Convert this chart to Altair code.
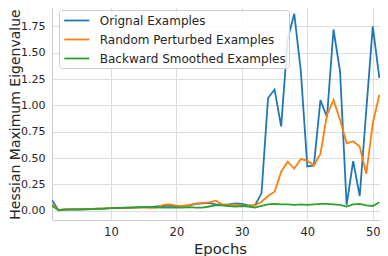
import altair as alt
import pandas as pd

epochs = list(range(1, 52))
original = [0.10, 0.005, 0.010, 0.012, 0.010, 0.012, 0.015, 0.020, 0.020, 0.025,
            0.028, 0.030, 0.030, 0.032, 0.035, 0.035, 0.040, 0.045, 0.048, 0.045,
            0.045, 0.050, 0.065, 0.070, 0.075, 0.060, 0.055, 0.060, 0.070, 0.065,
            0.050, 0.050, 0.165, 1.07, 1.15, 0.80, 1.63, 1.87, 1.33, 0.42,
            0.43, 1.05, 0.89, 1.72, 1.32, 0.054, 0.47, 0.14, 0.95, 1.75, 1.26]
perturbed = [0.06, 0.008, 0.015, 0.015, 0.015, 0.015, 0.018, 0.020, 0.022, 0.025,
             0.025, 0.028, 0.030, 0.030, 0.030, 0.028, 0.030, 0.055, 0.060, 0.048,
             0.045, 0.055, 0.070, 0.075, 0.080, 0.095, 0.060, 0.055, 0.060, 0.050,
             0.045, 0.050, 0.085, 0.14, 0.18, 0.37, 0.465, 0.40, 0.49, 0.475,
             0.43, 0.54, 0.91, 1.05, 0.86, 0.64, 0.66, 0.61, 0.35, 0.83, 1.10]
smoothed = [0.045, 0.005, 0.010, 0.012, 0.012, 0.014, 0.016, 0.018, 0.020, 0.025,
            0.026, 0.028, 0.030, 0.032, 0.035, 0.035, 0.033, 0.030, 0.030, 0.030,
            0.030, 0.035, 0.030, 0.030, 0.040, 0.050, 0.050, 0.045, 0.040, 0.045,
            0.040, 0.030, 0.045, 0.060, 0.065, 0.060, 0.060, 0.055, 0.060, 0.055,
            0.060, 0.065, 0.065, 0.060, 0.055, 0.040, 0.060, 0.065, 0.050, 0.045, 0.080]

names = ["Orignal Examples", "Random Perturbed Examples", "Backward Smoothed Examples"]
colors = ["#1f77b4", "#ff7f0e", "#2ca02c"]
y_ticks = [0.0, 0.25, 0.5, 0.75, 1.0, 1.25, 1.5, 1.75]
x_ticks = [10, 20, 30, 40, 50]

rows = []
for name, series in zip(names, [original, perturbed, smoothed]):
    for e, v in zip(epochs, series):
        rows.append({"Epoch": e, "Value": v, "Series": name})
df = pd.DataFrame(rows)

text_color = "#262626"
font = "DejaVu Sans"
W, H = 328, 216

chart = alt.Chart(df).mark_line(strokeWidth=1.8, clip=True).encode(
    x=alt.X("Epoch:Q",
            scale=alt.Scale(domain=[1, 51.1], nice=False, zero=False),
            axis=alt.Axis(values=x_ticks, title="Epochs", grid=True, ticks=False, tickSize=0,
                          domain=False, labelPadding=6, labelFontSize=11.5,
                          labelColor=text_color, titleColor=text_color,
                          titleFontSize=14.8, titleFontWeight="normal",
                          titleBaseline="alphabetic", titleX=168, titleY=33.5,
                          titleAnchor="middle", gridColor="#dddddd", gridWidth=1,
                          labelFont=font, titleFont=font)),
    y=alt.Y("Value:Q",
            scale=alt.Scale(domain=[-0.088, 1.962], nice=False, zero=False),
            axis=alt.Axis(values=y_ticks, format=".2f", title="Hessian Maximum Eigenvalue",
                          grid=True, ticks=False, tickSize=0, domain=False, labelPadding=7,
                          labelFontSize=11, labelColor=text_color, titleColor=text_color,
                          titleFontSize=14, titleFontWeight="normal",
                          titleBaseline="alphabetic", titleAngle=-90, titleAlign="center",
                          titleX=-32.5, titleY=110, gridColor="#dddddd", gridWidth=1,
                          labelFont=font, titleFont=font, titleLimit=400)),
    color=alt.Color("Series:N",
                    scale=alt.Scale(domain=names, range=colors),
                    sort=names,
                    legend=alt.Legend(title=None, orient="none", legendX=7, legendY=6,
                                      symbolType="M-2,0H2", symbolSize=156.25,
                                      symbolStrokeWidth=1.8, symbolOffset=7.25,
                                      labelOffset=15.5, labelFontSize=12, labelLimit=400,
                                      labelColor=text_color, labelFont=font,
                                      rowPadding=5, padding=3,
                                      fillColor="rgba(255,255,255,0.85)",
                                      strokeColor="#cccccc", cornerRadius=3)),
    order=alt.Order("Epoch:Q"),
).properties(
    width=W, height=H,
    autosize=alt.AutoSizeParams(type="none"),
    padding={"left": 44, "top": -4, "right": 0, "bottom": 36},
).configure_view(stroke="#cccccc", strokeWidth=1)

chart.save("out.html", embed_options={"renderer": "svg", "actions": False})
